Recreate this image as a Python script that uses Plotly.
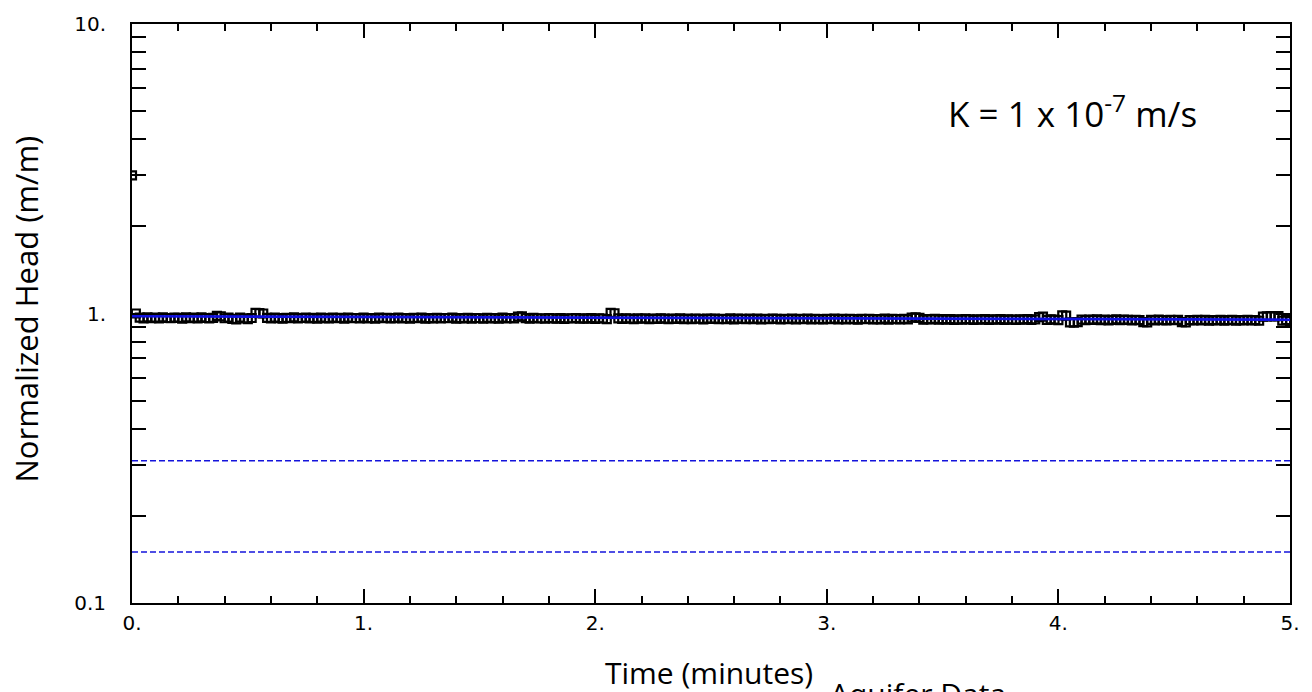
import plotly.graph_objects as go

# Slug-test record, logged once per second: elapsed time (s) and normalized head (m/m)
time_s = [
    0, 1, 2, 3, 4, 5, 6, 7, 8, 9,
    10, 11, 12, 13, 14, 15, 16, 17, 18, 19,
    20, 21, 22, 23, 24, 25, 26, 27, 28, 29,
    30, 31, 32, 33, 34, 35, 36, 37, 38, 39,
    40, 41, 42, 43, 44, 45, 46, 47, 48, 49,
    50, 51, 52, 53, 54, 55, 56, 57, 58, 59,
    60, 61, 62, 63, 64, 65, 66, 67, 68, 69,
    70, 71, 72, 73, 74, 75, 76, 77, 78, 79,
    80, 81, 82, 83, 84, 85, 86, 87, 88, 89,
    90, 91, 92, 93, 94, 95, 96, 97, 98, 99,
    100, 101, 102, 103, 104, 105, 106, 107, 108, 109,
    110, 111, 112, 113, 114, 115, 116, 117, 118, 119,
    120, 121, 122, 123, 124, 125, 126, 127, 128, 129,
    130, 131, 132, 133, 134, 135, 136, 137, 138, 139,
    140, 141, 142, 143, 144, 145, 146, 147, 148, 149,
    150, 151, 152, 153, 154, 155, 156, 157, 158, 159,
    160, 161, 162, 163, 164, 165, 166, 167, 168, 169,
    170, 171, 172, 173, 174, 175, 176, 177, 178, 179,
    180, 181, 182, 183, 184, 185, 186, 187, 188, 189,
    190, 191, 192, 193, 194, 195, 196, 197, 198, 199,
    200, 201, 202, 203, 204, 205, 206, 207, 208, 209,
    210, 211, 212, 213, 214, 215, 216, 217, 218, 219,
    220, 221, 222, 223, 224, 225, 226, 227, 228, 229,
    230, 231, 232, 233, 234, 235, 236, 237, 238, 239,
    240, 241, 242, 243, 244, 245, 246, 247, 248, 249,
    250, 251, 252, 253, 254, 255, 256, 257, 258, 259,
    260, 261, 262, 263, 264, 265, 266, 267, 268, 269,
    270, 271, 272, 273, 274, 275, 276, 277, 278, 279,
    280, 281, 282, 283, 284, 285, 286, 287, 288, 289,
    290, 291, 292, 293, 294, 295, 296, 297, 298, 299,
    300,
]
head = [
    3.000, 1.000, 0.968, 0.962, 0.970, 0.964, 0.967, 0.961, 0.969, 0.965,
    0.963, 0.968, 0.966, 0.960, 0.969, 0.964, 0.967, 0.962, 0.970, 0.965,
    0.961, 0.966, 0.982, 0.978, 0.963, 0.967, 0.958, 0.955, 0.968, 0.962,
    0.956, 0.965, 1.005, 1.003, 1.000, 0.966, 0.962, 0.968, 0.964, 0.960,
    0.966, 0.963, 0.969, 0.961, 0.965, 0.968, 0.962, 0.966, 0.960, 0.967,
    0.964, 0.961, 0.968, 0.963, 0.966, 0.960, 0.967, 0.963, 0.965, 0.961,
    0.968, 0.962, 0.965, 0.960, 0.967, 0.963, 0.966, 0.961, 0.964, 0.968,
    0.962, 0.965, 0.959, 0.966, 0.963, 0.967, 0.960, 0.964, 0.962, 0.966,
    0.961, 0.965, 0.963, 0.967, 0.959, 0.964, 0.962, 0.966, 0.960, 0.965,
    0.963, 0.960, 0.966, 0.962, 0.964, 0.959, 0.967, 0.961, 0.965, 0.962,
    0.975, 0.978, 0.964, 0.960, 0.966, 0.961, 0.963, 0.959, 0.965, 0.962,
    0.960, 0.964, 0.958, 0.963, 0.961, 0.965, 0.959, 0.962, 0.960, 0.964,
    0.958, 0.963, 0.961, 0.957, 1.005, 1.002, 0.962, 0.958, 0.963, 0.960,
    0.957, 0.962, 0.959, 0.963, 0.956, 0.961, 0.958, 0.962, 0.960, 0.957,
    0.961, 0.958, 0.962, 0.956, 0.960, 0.957, 0.961, 0.959, 0.955, 0.960,
    0.958, 0.961, 0.956, 0.959, 0.957, 0.962, 0.955, 0.960, 0.958, 0.956,
    0.960, 0.957, 0.961, 0.955, 0.959, 0.956, 0.960, 0.958, 0.954, 0.959,
    0.957, 0.960, 0.955, 0.958, 0.956, 0.961, 0.954, 0.959, 0.957, 0.955,
    0.959, 0.956, 0.960, 0.954, 0.958, 0.955, 0.959, 0.957, 0.953, 0.958,
    0.956, 0.959, 0.954, 0.957, 0.955, 0.960, 0.953, 0.958, 0.956, 0.954,
    0.958, 0.955, 0.968, 0.970, 0.966, 0.953, 0.957, 0.954, 0.958, 0.952,
    0.956, 0.953, 0.957, 0.951, 0.955, 0.952, 0.956, 0.954, 0.950, 0.955,
    0.953, 0.956, 0.951, 0.954, 0.952, 0.957, 0.950, 0.955, 0.953, 0.951,
    0.955, 0.952, 0.956, 0.950, 0.954, 0.972, 0.975, 0.951, 0.955, 0.953,
    0.949, 0.985, 0.983, 0.932, 0.930, 0.933, 0.952, 0.948, 0.953, 0.950,
    0.954, 0.949, 0.952, 0.947, 0.951, 0.955, 0.948, 0.952, 0.950, 0.946,
    0.951, 0.948, 0.934, 0.932, 0.950, 0.946, 0.952, 0.949, 0.947, 0.951,
    0.948, 0.950, 0.933, 0.931, 0.949, 0.946, 0.950, 0.947, 0.951, 0.945,
    0.949, 0.946, 0.950, 0.944, 0.948, 0.951, 0.945, 0.949, 0.947, 0.950,
    0.946, 0.948, 0.944, 0.976, 0.978, 0.980, 0.977, 0.979, 0.945, 0.948,
    0.943,
]

# Fitted type curve and reference levels
fit_time_min = [0.0, 5.0]
fit_head = [0.978, 0.952]
ref_levels = [0.31, 0.15]
x_span = [0.0, 5.0]

# Axis ticks
x_major = [0, 1, 2, 3, 4, 5]
x_labels = ["0.", "1.", "2.", "3.", "4.", "5."]
y_ticks = [0.1, 0.2, 0.3, 0.4, 0.5, 0.6, 0.7, 0.8, 0.9,
           1, 2, 3, 4, 5, 6, 7, 8, 9, 10]
y_labels = ["0.1", "", "", "", "", "", "", "", "",
            "1.", "", "", "", "", "", "", "", "", "10."]

time_min = [t / 60.0 for t in time_s]

fig = go.Figure()

fig.add_trace(go.Scatter(
    x=time_min, y=head, mode="markers",
    marker=dict(symbol="square-open", size=8, color="black",
                line=dict(width=2.2, color="black")),
    showlegend=False, hoverinfo="skip",
))

fig.add_trace(go.Scatter(
    x=fit_time_min, y=fit_head, mode="lines",
    line=dict(color="#1010e0", width=2.6),
    showlegend=False, hoverinfo="skip",
))

for lvl in ref_levels:
    fig.add_trace(go.Scatter(
        x=x_span, y=[lvl, lvl], mode="lines",
        line=dict(color="#1414dc", width=1.5, dash="6px,3px"),
        showlegend=False, hoverinfo="skip",
    ))

tick_font = dict(family="DejaVu Sans", size=20, color="black")

fig.update_layout(
    width=1312, height=692,
    margin=dict(l=132, r=17, t=18, b=89),
    paper_bgcolor="white", plot_bgcolor="white",
    xaxis=dict(
        range=[0, 5], showgrid=False, zeroline=False,
        showline=True, linecolor="black", linewidth=2, mirror="ticks",
        ticks="inside", ticklen=14, tickwidth=2, tickcolor="black",
        tickvals=x_major, ticktext=x_labels, tickfont=tick_font,
        ticklabelstandoff=1,
        minor=dict(dtick=0.2, ticks="inside", ticklen=7, tickwidth=2,
                   tickcolor="black", showgrid=False),
    ),
    yaxis=dict(
        type="log", range=[-1, 1], showgrid=False, zeroline=False,
        showline=True, linecolor="black", linewidth=2, mirror="ticks",
        ticks="inside", ticklen=14, tickwidth=2, tickcolor="black",
        tickvals=y_ticks, ticktext=y_labels, tickfont=tick_font,
        ticklabelstandoff=20,
    ),
    annotations=[
        dict(text="K = 1 x 10<sup>-7</sup> m/s", xref="paper", yref="paper",
             x=(950 - 132) / 1163, y=(603 - 106) / 585, xanchor="left",
             yanchor="middle", showarrow=False,
             font=dict(family="Open Sans", size=35, color="black")),
        dict(text="Normalized Head (m/m)", xref="paper", yref="paper",
             x=(26 - 132) / 1163, y=(603 - 306) / 585, textangle=-90,
             xanchor="center", yanchor="middle", showarrow=False,
             font=dict(family="Open Sans", size=31, color="black")),
        dict(text="Time (minutes)", xref="paper", yref="paper",
             x=(711 - 132) / 1163, y=(603 - 673) / 585,
             xanchor="center", yanchor="middle", showarrow=False,
             font=dict(family="Open Sans", size=30, color="black")),
        dict(text="Aquifer Data", xref="paper", yref="paper",
             x=(831 - 132) / 1163, y=(603 - 694) / 585,
             xanchor="left", yanchor="middle", showarrow=False,
             font=dict(family="Open Sans", size=30, color="black")),
    ],
)

fig.write_html("out.html")
